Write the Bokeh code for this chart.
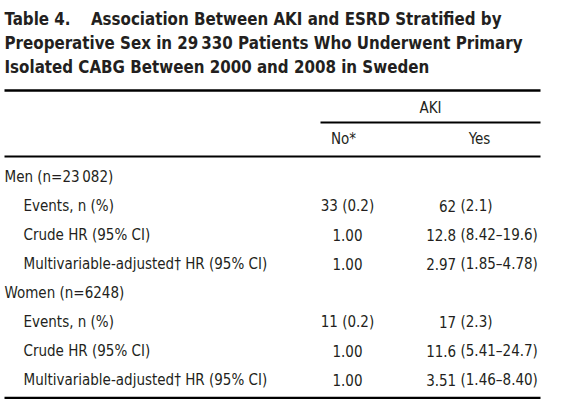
from bokeh.plotting import figure
from bokeh.models import Range1d, ColumnDataSource
from bokeh.core.properties import value
from bokeh.embed import file_html
from bokeh.resources import INLINE

title_lines = [
    "Table 4.\u2003 Association Between AKI and ESRD Stratified by",
    "Preoperative Sex in 29\u2009330 Patients Who Underwent Primary",
    "Isolated CABG Between 2000 and 2008 in Sweden",
]
group_header = "AKI"
col_headers = ["No*", "Yes"]
row_labels = [
    "Men (n=23\u2009082)",
    "Events, n (%)",
    "Crude HR (95% CI)",
    "Multivariable-adjusted\u2020 HR (95% CI)",
    "Women (n=6248)",
    "Events, n (%)",
    "Crude HR (95% CI)",
    "Multivariable-adjusted\u2020 HR (95% CI)",
]
row_indent = [0, 1, 1, 1, 0, 1, 1, 1]
no_values = ["", "33 (0.2)", "1.00", "1.00", "", "11 (0.2)", "1.00", "1.00"]
yes_values = ["", "62 (2.1)", "12.8 (8.42\u201319.6)", "2.97 (1.85\u20134.78)",
              "", "17 (2.3)", "11.6 (5.41\u201324.7)", "3.51 (1.46\u20138.40)"]

W, H = 549, 399
FONT = "'Liberation Sans Narrow', 'DejaVu Sans Condensed', 'Roboto Condensed', sans-serif"
INK = "#231f20"

p = figure(width=W, height=H, output_backend="svg", toolbar_location=None,
           x_range=Range1d(0, W), y_range=Range1d(H, 0),
           x_axis_type=None, y_axis_type=None, min_border=0)
p.grid.visible = False
p.outline_line_color = None
p.background_fill_color = "white"

left = 4
right = 540

# title
p.text(x=[left] * len(title_lines), y=[18 + 24 * i for i in range(len(title_lines))],
       text=title_lines, text_font=value(FONT), text_font_style="bold",
       text_font_size="16.8px", text_color=INK, text_baseline="middle", text_align="left")

# rules
aki_left = 320
p.segment(x0=[left, aki_left, left, left], x1=[right] * 4,
          y0=[90, 122, 156, 397.5], y1=[90, 122, 156, 397.5],
          line_color="black", line_width=[2.5, 1.8, 1.8, 2.5])

# headers
no_x, paren_x = 347, 460
p.text(x=[(aki_left + right) / 2], y=[107], text=[group_header], text_font=value(FONT),
       text_font_size="15px", text_color=INK, text_baseline="middle", text_align="center")
p.text(x=[343, 479], y=[138, 138], text=col_headers, text_font=value(FONT),
       text_font_size="15px", text_color=INK, text_baseline="middle", text_align="center")

# rows
row_y = [176 + 29.1 * i for i in range(len(row_labels))]
src = ColumnDataSource(dict(
    x=[left + 19 * k for k in row_indent], y=row_y, label=row_labels,
    no=no_values,
    yes_a=[v.split(" (")[0] for v in yes_values],
    yes_b=[("(" + v.split(" (")[1]) if " (" in v else "" for v in yes_values],
))
common = dict(text_font=value(FONT), text_font_size="15px", text_color=INK,
              text_baseline="middle")
p.text(x="x", y="y", text="label", source=src, text_align="left", **common)
p.text(x=no_x, y="y", text="no", source=src, text_align="center", **common)
p.text(x=paren_x - 4.3, y="y", text="yes_a", source=src, text_align="right", **common)
p.text(x=paren_x, y="y", text="yes_b", source=src, text_align="left", **common)

open("out.html", "w").write(file_html(p, INLINE))
